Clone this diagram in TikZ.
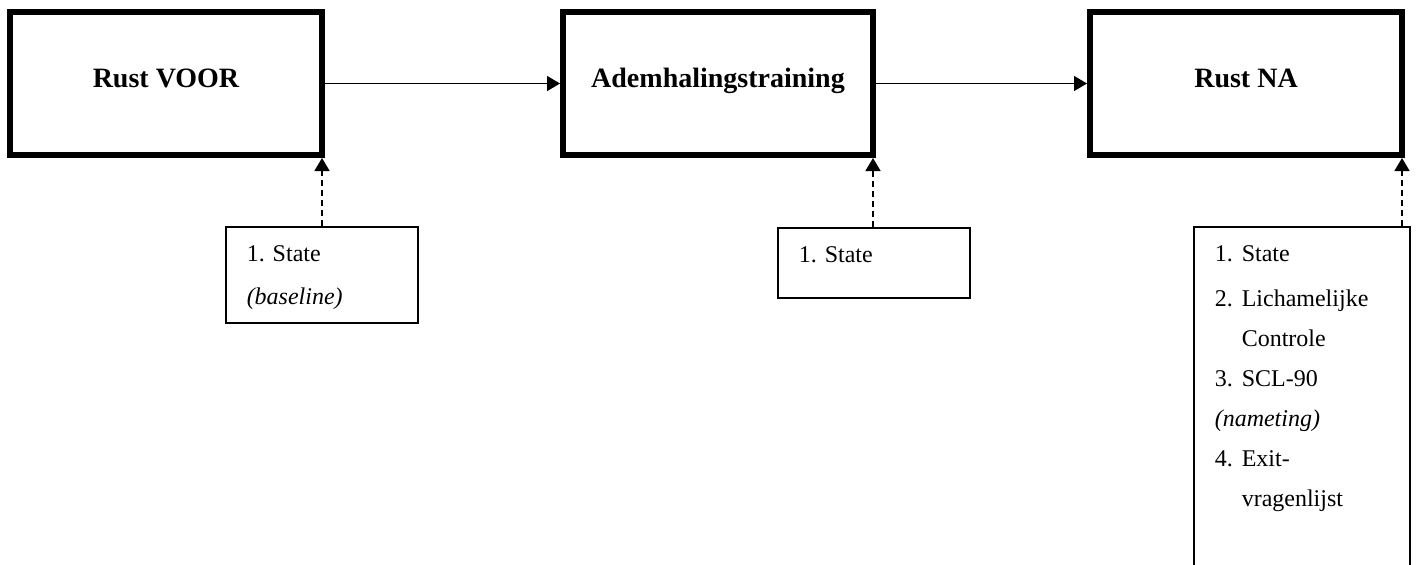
\documentclass[tikz,border=0pt]{standalone}
\usepackage{fontspec}
\setmainfont{Liberation Serif}
\usetikzlibrary{arrows.meta}
\begin{document}
\begin{tikzpicture}[x=0.5pt,y=-0.5pt,
  bigbox/.style={draw, line width=3pt, minimum width=156pt, minimum height=71.5pt,
    inner sep=0pt, font=\fontsize{14}{16}\selectfont\bfseries, text height=10pt, text depth=6.5pt},
  smallbox/.style={draw, line width=0.65pt, minimum width=96pt, inner sep=0pt},
  listtext/.style={font=\fontsize{12}{20}\selectfont, inner sep=0pt, anchor=base west},
  arr/.style={line width=0.75pt, -{Triangle[length=6.5pt,width=7.5pt]}},
  darr/.style={line width=0.8pt, dash pattern=on 3pt off 2pt, -{Triangle[length=6.5pt,width=7.5pt]}}
]
\useasboundingbox (0,0) rectangle (1417,564);

% main boxes
\node[bigbox] (b1) at (166,83.5) {Rust VOOR};
\node[bigbox, minimum width=155pt] (b2) at (718,83.5) {Ademhalingstraining};
\node[bigbox] (b3) at (1246,83.5) {Rust NA};

\draw[arr] (b1.east) -- (b2.west);
\draw[arr] (b2.east) -- (b3.west);

% measurement boxes
\node[smallbox, minimum height=48pt] (sA) at (322,275) {};
\node[listtext] (tA) at ([xshift=10.5pt,yshift=-17.5pt]sA.north west)
  {\begin{tabular}[t]{@{}l@{}}\makebox[13pt][l]{1.}State\\[1.5pt] \textit{(baseline)}\end{tabular}};

\node[smallbox, minimum height=35pt] (sB) at (874,263) {};
\node[listtext] (tB) at ([xshift=10.5pt,yshift=-17.5pt]sB.north west)
  {\begin{tabular}[t]{@{}l@{}}\makebox[13pt][l]{1.}State\end{tabular}};

\node[smallbox, minimum width=108pt, minimum height=186.5pt] (sC) at (1302,413.5) {};
\node[listtext] (tC) at ([xshift=10.5pt,yshift=-17.5pt]sC.north west)
  {\begin{tabular}[t]{@{}l@{}}
   \makebox[13.5pt][l]{1.}State\\[2.5pt]
   \makebox[13.5pt][l]{2.}Lichamelijke\\
   \hspace*{13.5pt}Controle\\
   \makebox[13.5pt][l]{3.}SCL-90\\
   \textit{(nameting)}\\
   \makebox[13.5pt][l]{4.}Exit-\\
   \hspace*{13.5pt}vragenlijst
   \end{tabular}};

% dashed connectors to the bottom-right corners
\coordinate (c1) at ([xshift=-1.5pt]b1.south east);
\coordinate (c2) at ([xshift=-1.5pt]b2.south east);
\coordinate (c3) at ([xshift=-1.5pt]b3.south east);
\draw[darr] (c1 |- sA.north) -- (c1);
\draw[darr] (c2 |- sB.north) -- (c2);
\draw[darr] (c3 |- sC.north) -- (c3);
\end{tikzpicture}
\end{document}
